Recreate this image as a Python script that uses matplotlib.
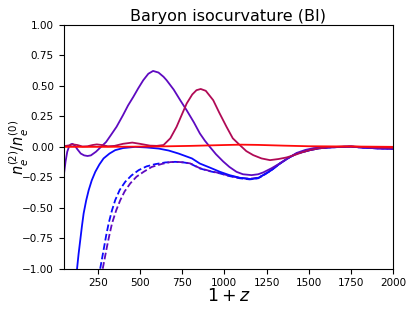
import matplotlib
matplotlib.use("Agg")
import matplotlib.pyplot as plt

# 1+z sample points, one set per curve
x_purple = [50, 60, 70, 80, 90, 100, 115, 130, 150, 170, 190, 210, 240, 270, 300, 330, 362, 400,
            430, 461, 490, 520, 550, 578, 610, 640, 658, 700, 740, 777, 820, 855, 885, 914, 950,
            993, 1030, 1072, 1110, 1161, 1200, 1230, 1280, 1329, 1380, 1428, 1480, 1530, 1600,
            1680, 1750, 1820, 1900, 2000]
y_purple = [-0.23, -0.12, -0.04, 0.0, 0.02, 0.025, 0.01, -0.02, -0.055, -0.07, -0.075, -0.07,
            -0.04, 0.0, 0.04, 0.10, 0.165, 0.26, 0.34, 0.41, 0.48, 0.547, 0.60, 0.623, 0.61,
            0.575, 0.547, 0.47, 0.38, 0.30, 0.20, 0.11, 0.05, 0.0, -0.06, -0.12, -0.165, -0.205,
            -0.225, -0.232, -0.225, -0.21, -0.175, -0.135, -0.09, -0.05, -0.025, -0.01, -0.003,
            0.0, 0.003, -0.005, -0.012, -0.015]

x_crimson = [50, 80, 105, 130, 160, 190, 220, 245, 275, 310, 350, 400, 455, 500, 560, 600, 640,
             680, 717, 750, 777, 810, 835, 860, 890, 934, 970, 1013, 1050, 1092, 1130, 1171,
             1220, 1270, 1320, 1368, 1420, 1460, 1506, 1560, 1620, 1700, 1750, 1800, 1900, 2000]
y_crimson = [0.005, 0.012, 0.02, 0.015, 0.003, 0.005, 0.015, 0.02, 0.015, 0.005, 0.008, 0.025,
             0.035, 0.025, 0.01, 0.008, 0.015, 0.07, 0.164, 0.27, 0.356, 0.43, 0.465, 0.475,
             0.46, 0.383, 0.28, 0.164, 0.07, 0.014, -0.035, -0.068, -0.095, -0.109, -0.10,
             -0.087, -0.065, -0.045, -0.027, -0.012, -0.003, 0.002, 0.004, 0.0, -0.005, -0.008]

x_red = [50, 300, 600, 800, 1000, 1100, 1200, 1350, 1500, 1750, 2000]
y_red = [0.0, 0.0, 0.003, 0.008, 0.015, 0.018, 0.016, 0.01, 0.005, 0.003, 0.0]

x_blue = [128, 137, 147, 157, 167, 182, 197, 215, 236, 260, 285, 320, 354, 400, 472, 540, 611,
          670, 729, 808, 855, 914, 974, 1030, 1092, 1161, 1200, 1230, 1280, 1329, 1380, 1428,
          1506, 1560, 1620, 1700, 1750, 1800, 1900, 2000]
y_blue = [-1.0, -0.88, -0.765, -0.65, -0.546, -0.44, -0.355, -0.275, -0.205, -0.145, -0.095,
          -0.055, -0.027, -0.01, 0.0, -0.005, -0.014, -0.03, -0.055, -0.095, -0.137, -0.17,
          -0.205, -0.232, -0.254, -0.265, -0.255, -0.232, -0.19, -0.137, -0.09, -0.055, -0.027,
          -0.012, -0.005, 0.0, 0.002, -0.004, -0.012, -0.015]

x_blue_dash = [265, 285, 300, 315, 335, 354, 380, 413, 450, 493, 540, 591, 650, 709, 760, 798,
               855, 914, 974, 1030, 1092, 1150, 1200, 1230, 1280, 1329, 1380, 1428, 1506, 1560,
               1620, 1700, 1750, 1800, 1900, 2000]
y_blue_dash = [-1.0, -0.847, -0.73, -0.628, -0.52, -0.437, -0.355, -0.287, -0.235, -0.191,
               -0.16, -0.142, -0.128, -0.123, -0.128, -0.137, -0.177, -0.20, -0.218, -0.24,
               -0.258, -0.267, -0.258, -0.235, -0.19, -0.137, -0.09, -0.055, -0.027, -0.012,
               -0.005, 0.0, 0.002, -0.004, -0.012, -0.015]

x_purple_dash = [280, 305, 320, 335, 360, 384, 410, 443, 480, 522, 570, 630, 680, 718, 760, 798,
                 855, 914, 974, 1030, 1092, 1150, 1200, 1230, 1280, 1329, 1380, 1428, 1506, 1560,
                 1620, 1700, 1750, 1800, 1900, 2000]
y_purple_dash = [-1.0, -0.82, -0.72, -0.628, -0.52, -0.437, -0.365, -0.30, -0.245, -0.205,
                 -0.165, -0.14, -0.125, -0.123, -0.127, -0.136, -0.175, -0.198, -0.216, -0.238,
                 -0.255, -0.262, -0.253, -0.232, -0.188, -0.136, -0.09, -0.055, -0.027, -0.012,
                 -0.005, 0.0, 0.002, -0.004, -0.012, -0.015]

c_red = "#ff0a0a"
c_crimson = "#b00a55"
c_purple = "#5e0ac0"
c_blue = "#0a0aff"

fig = plt.figure(figsize=(4.15, 3.11), dpi=100)
ax = fig.add_axes([0.1535, 0.136, 0.7942, 0.7836])

ax.plot(x_blue_dash, y_blue_dash, color=c_blue, lw=1.3, ls="--")
ax.plot(x_purple_dash, y_purple_dash, color=c_purple, lw=1.3, ls="--")
ax.plot(x_blue, y_blue, color=c_blue, lw=1.3)
ax.plot(x_purple, y_purple, color=c_purple, lw=1.3)
ax.plot(x_crimson, y_crimson, color=c_crimson, lw=1.3)
ax.plot(x_red, y_red, color=c_red, lw=1.3)

ax.set_xlim(49, 2000)
ax.set_ylim(-1, 1)
ax.set_xticks([250, 500, 750, 1000, 1250, 1500, 1750, 2000])
ax.set_yticks([-1.0, -0.75, -0.5, -0.25, 0.0, 0.25, 0.5, 0.75, 1.0])
ax.tick_params(labelsize=7.5)
ax.set_xlabel("$1+z$", fontsize=12.5, labelpad=-1)
ax.set_ylabel(r"$n_e^{(2)}/n_e^{(0)}$", fontsize=10.5)
ax.yaxis.set_label_coords(-0.1, 0.5)
ax.set_title("Baryon isocurvature (BI)", fontsize=11.5, pad=3)

fig.savefig("out.png", dpi=100)
